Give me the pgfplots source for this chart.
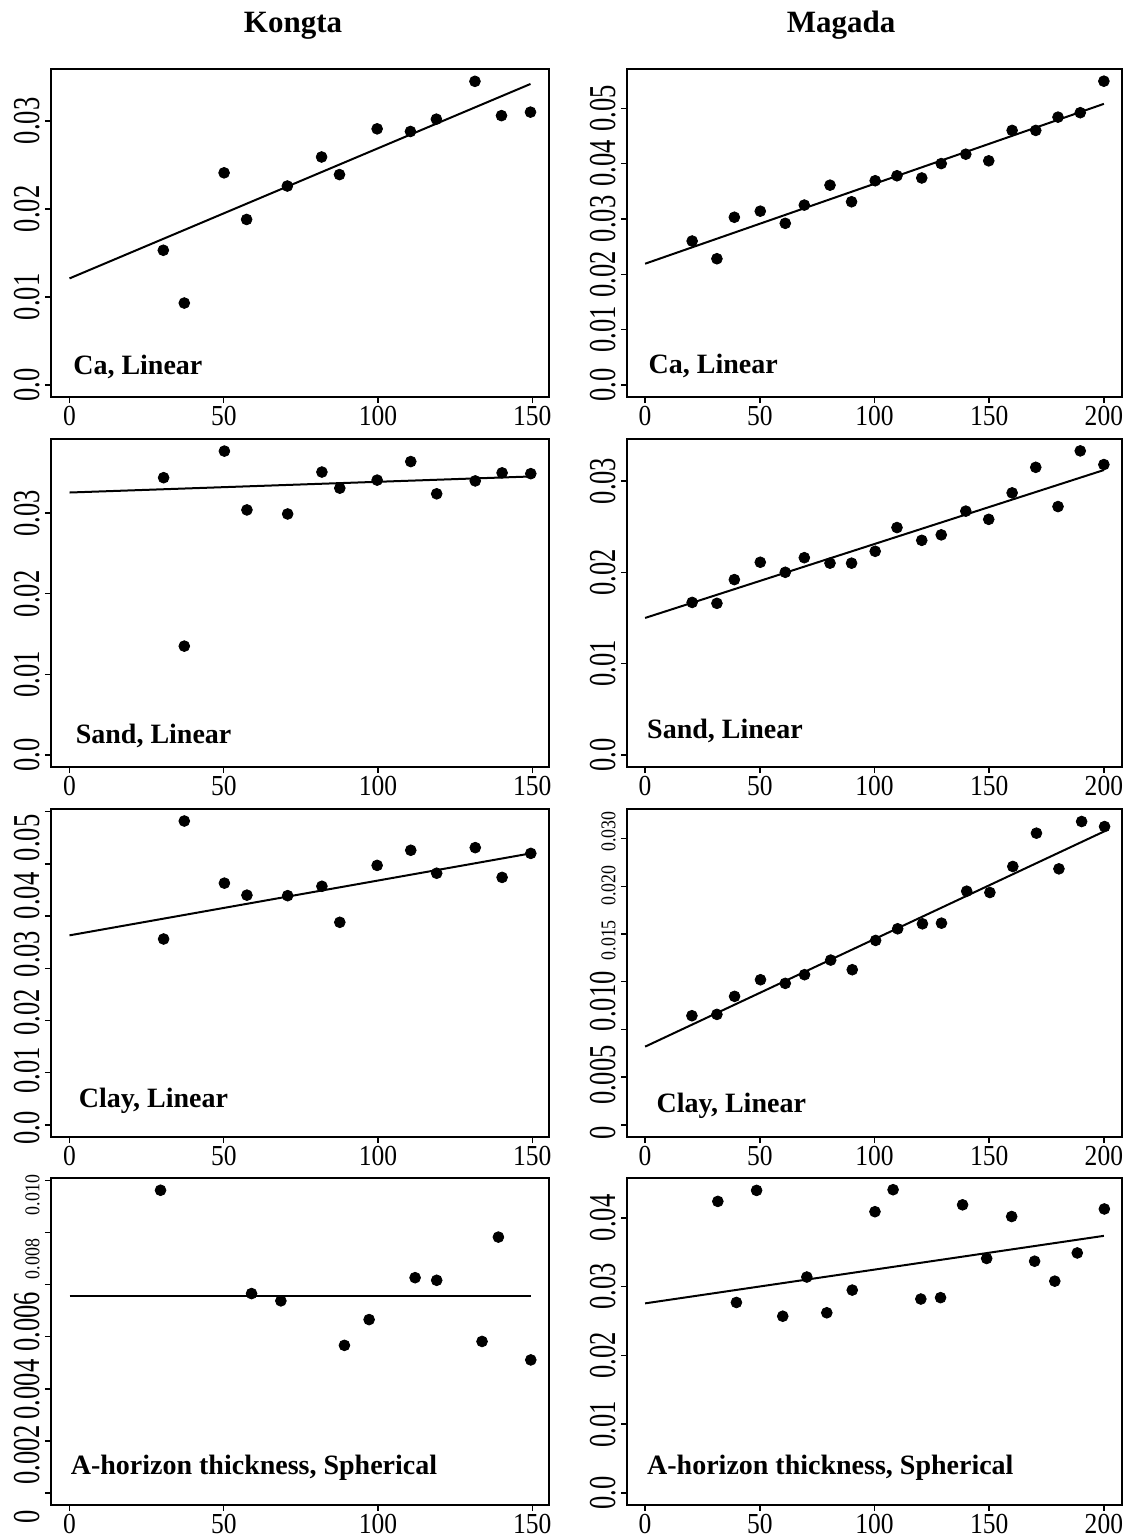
\documentclass[border=0pt]{standalone}
\usepackage{fontspec}
\setmainfont{Liberation Serif}
\newfontfamily\xtickfont[FakeStretch=0.88]{Liberation Serif}
\newfontfamily\ytickfont[FakeStretch=0.7]{Liberation Serif}
\newfontfamily\stickfont[FakeStretch=0.85]{Liberation Serif}
\usepackage{pgfplots}
\pgfplotsset{compat=1.18}

\newcommand{\xtf}{\xtickfont\fontsize{14.5}{16}\selectfont}
\newcommand{\tf}{\ytickfont\fontsize{19}{21}\selectfont}
\newcommand{\tfs}{\stickfont\fontsize{10.5}{12}\selectfont}

\pgfplotsset{
  vario/.style={
    scale only axis,
    clip mode=individual,
    axis line style={line width=1pt},
    tick pos=left,
    tick align=outside,
    major tick length=3pt,
    tick style={line width=0.7pt, black},
    scaled ticks=false,
    yticklabel style={font=\tf, rotate=90, anchor=south, inner sep=2.5pt},
    xticklabel style={font=\xtf, inner sep=1.5pt},
  },
  kongta/.style={vario, width=249pt, height=164pt, xmin=-6, xmax=155.4,
    xtick={0,50,100,150}, xticklabels={0,50,100,150}},
  magada/.style={vario, width=247.5pt, height=164pt, xmin=-7.9, xmax=207.9,
    xtick={0,50,100,150,200}, xticklabels={0,50,100,150,200}},
  pts/.style={only marks, mark=*, mark size=2.7pt, black},
  fit/.style={line width=1pt, black, no marks},
}
\newcommand{\plabel}[3]{\node[anchor=base west, inner sep=0pt, font=\bfseries\fontsize{14}{16}\selectfont] at (rel axis cs:#1,#2) {#3};}
% y label placed freely: #1 rel y, #2 font, #3 text
\newcommand{\ylab}[3]{\node[rotate=90, anchor=south, inner sep=0pt, font=#2] at ([xshift=-5.5pt]rel axis cs:0,#1) {#3};}

\begin{document}
\begin{tikzpicture}
\useasboundingbox (0,0) rectangle (562.5pt,-769.5pt);
\node[anchor=base, inner sep=0pt, font=\bfseries\fontsize{15.5}{18}\selectfont] at (146.5pt,-16pt) {Kongta};
\node[anchor=base, inner sep=0pt, font=\bfseries\fontsize{15.5}{18}\selectfont] at (420.5pt,-16pt) {Magada};

% ---------------- Row 1: Ca ----------------
\begin{axis}[kongta, at={(25.5pt,-34.5pt)}, anchor=north west,
  ymin=-0.00138, ymax=0.0359, ytick={0,0.01,0.02,0.03}, yticklabels={0.0,0.01,0.02,0.03}]
\addplot[pts] coordinates {(30.4,0.0153) (37.2,0.0093) (50.1,0.0241) (57.4,0.0188) (70.6,0.0226) (81.7,0.0259) (87.5,0.0239) (99.7,0.0291) (110.5,0.0288) (118.9,0.0302) (131.4,0.0345) (140.0,0.0306) (149.4,0.0310)};
\addplot[fit] coordinates {(0,0.0121) (149.4,0.0342)};
\plabel{0.044}{0.07}{Ca, Linear}
\end{axis}

\begin{axis}[magada, at={(313.5pt,-34.5pt)}, anchor=north west,
  ymin=-0.0022, ymax=0.0571, ytick={0,0.01,0.02,0.03,0.04,0.05}, yticklabels={0.0,0.01,0.02,0.03,0.04,0.05}]
\addplot[pts] coordinates {(20.5,0.0260) (31.3,0.0228) (38.9,0.0303) (50.2,0.0314) (61.1,0.0292) (69.4,0.0325) (80.6,0.0361) (90.0,0.0331) (100.3,0.0369) (109.8,0.0378) (120.6,0.0374) (129.1,0.0400) (139.8,0.0417) (149.8,0.0405) (160.0,0.0460) (170.3,0.0460) (180.0,0.0484) (189.7,0.0492) (200.0,0.0549)};
\addplot[fit] coordinates {(0,0.0219) (200,0.0508)};
\plabel{0.043}{0.073}{Ca, Linear}
\end{axis}

% ---------------- Row 2: Sand ----------------
\begin{axis}[kongta, at={(25.5pt,-219.5pt)}, anchor=north west,
  ymin=-0.0015, ymax=0.0392, ytick={0,0.01,0.02,0.03}, yticklabels={0.0,0.01,0.02,0.03}]
\addplot[pts] coordinates {(30.5,0.0344) (37.2,0.0135) (50.2,0.0377) (57.5,0.0304) (70.7,0.0299) (81.8,0.0351) (87.6,0.0331) (99.7,0.0341) (110.6,0.0364) (119.0,0.0324) (131.5,0.0340) (140.2,0.0350) (149.5,0.0349)};
\addplot[fit] coordinates {(0,0.03256) (149.5,0.03455)};
\plabel{0.049}{0.073}{Sand, Linear}
\end{axis}

\begin{axis}[magada, at={(313.5pt,-219.5pt)}, anchor=north west,
  ymin=-0.00133, ymax=0.0346, ytick={0,0.01,0.02,0.03}, yticklabels={0.0,0.01,0.02,0.03}]
\addplot[pts] coordinates {(20.5,0.0167) (31.3,0.0166) (38.9,0.0192) (50.2,0.0211) (61.1,0.0200) (69.4,0.0216) (80.6,0.0210) (90.0,0.0210) (100.3,0.0223) (109.8,0.0249) (120.6,0.0235) (129.1,0.0241) (139.8,0.0267) (149.8,0.0258) (160.0,0.0287) (170.3,0.0315) (180.0,0.0272) (189.7,0.0333) (200.0,0.0318)};
\addplot[fit] coordinates {(0,0.0150) (200,0.0312)};
\plabel{0.04}{0.088}{Sand, Linear}
\end{axis}

% ---------------- Row 3: Clay ----------------
\begin{axis}[kongta, at={(25.5pt,-404.5pt)}, anchor=north west,
  ymin=-0.00233, ymax=0.0605, ytick={0,0.01,0.02,0.03,0.04,0.05,0.06}, yticklabels={}]
\addplot[pts] coordinates {(30.5,0.0356) (37.2,0.0582) (50.2,0.0463) (57.5,0.0440) (70.7,0.0439) (81.8,0.0457) (87.6,0.0388) (99.7,0.0497) (110.6,0.0526) (119.0,0.0482) (131.5,0.0531) (140.2,0.0474) (149.5,0.0520)};
\addplot[fit] coordinates {(0,0.0363) (149.5,0.0520)};
\plabel{0.055}{0.091}{Clay, Linear}
\ylab{0.027}{\tf}{0.0}
\ylab{0.204}{\tf}{0.01}
\ylab{0.381}{\tf}{0.02}
\ylab{0.558}{\tf}{0.03}
\ylab{0.735}{\tf}{0.04}
\ylab{0.912}{\tf}{0.05}
\end{axis}

\begin{axis}[magada, at={(313.5pt,-404.5pt)}, anchor=north west,
  ymin=-0.00127, ymax=0.0331, ytick={0,0.005,0.01,0.015,0.02,0.025,0.03}, yticklabels={}]
\addplot[pts] coordinates {(20.4,0.01144) (31.3,0.01158) (39.0,0.01347) (50.3,0.01521) (61.1,0.01483) (69.5,0.01574) (80.9,0.01727) (90.3,0.01626) (100.5,0.01933) (110.1,0.02055) (120.9,0.02107) (129.2,0.02114) (140.2,0.02449) (150.3,0.02435) (160.3,0.02708) (170.6,0.03057) (180.4,0.02683) (190.3,0.03179) (200.3,0.03126)};
\addplot[fit] coordinates {(0,0.0082) (200,0.03074)};
\plabel{0.059}{0.076}{Clay, Linear}
\ylab{0.012}{\tf}{0}
\ylab{0.189}{\tf}{0.005}
\ylab{0.414}{\tf}{0.010}
\ylab{0.600}{\tfs}{0.015}
\ylab{0.767}{\tfs}{0.020}
\ylab{0.931}{\tfs}{0.030}
\end{axis}

% ---------------- Row 4: A-horizon ----------------
\begin{axis}[kongta, at={(25.5pt,-589pt)}, anchor=north west, height=163.5pt,
  ymin=-0.000465, ymax=0.0121, ytick={0,0.002,0.004,0.006,0.008,0.010,0.012}, yticklabels={}]
\addplot[pts] coordinates {(29.5,0.01163) (59.0,0.00766) (68.5,0.00738) (89.1,0.00567) (97.1,0.00666) (112.0,0.00827) (119.0,0.00817) (133.7,0.00582) (139.0,0.00983) (149.5,0.00511)};
\addplot[fit] coordinates {(0,0.00758) (149.5,0.00758)};
\plabel{0.039}{0.092}{A-horizon thickness, Spherical}
\ylab{-0.035}{\tf}{0}
\ylab{0.154}{\tf}{0.002}
\ylab{0.353}{\tf}{0.004}
\ylab{0.560}{\tf}{0.006}
\ylab{0.752}{\tfs}{0.008}
\ylab{0.948}{\tfs}{0.010}
\end{axis}

\begin{axis}[magada, at={(313.5pt,-589pt)}, anchor=north west, height=163.5pt,
  ymin=-0.00176, ymax=0.0458, ytick={0,0.01,0.02,0.03,0.04}, yticklabels={0.0,0.01,0.02,0.03,0.04}]
\addplot[pts] coordinates {(31.7,0.0424) (39.8,0.0277) (48.6,0.0440) (60.0,0.0257) (70.5,0.0314) (79.2,0.0262) (90.3,0.0295) (100.2,0.0409) (108.1,0.0441) (120.2,0.0282) (128.8,0.0284) (138.4,0.0419) (148.9,0.0341) (159.8,0.0402) (169.8,0.0337) (178.6,0.0308) (188.4,0.0349) (200.2,0.0413)};
\addplot[fit] coordinates {(0,0.02757) (200,0.03739)};
\plabel{0.04}{0.092}{A-horizon thickness, Spherical}
\end{axis}
\end{tikzpicture}
\end{document}
